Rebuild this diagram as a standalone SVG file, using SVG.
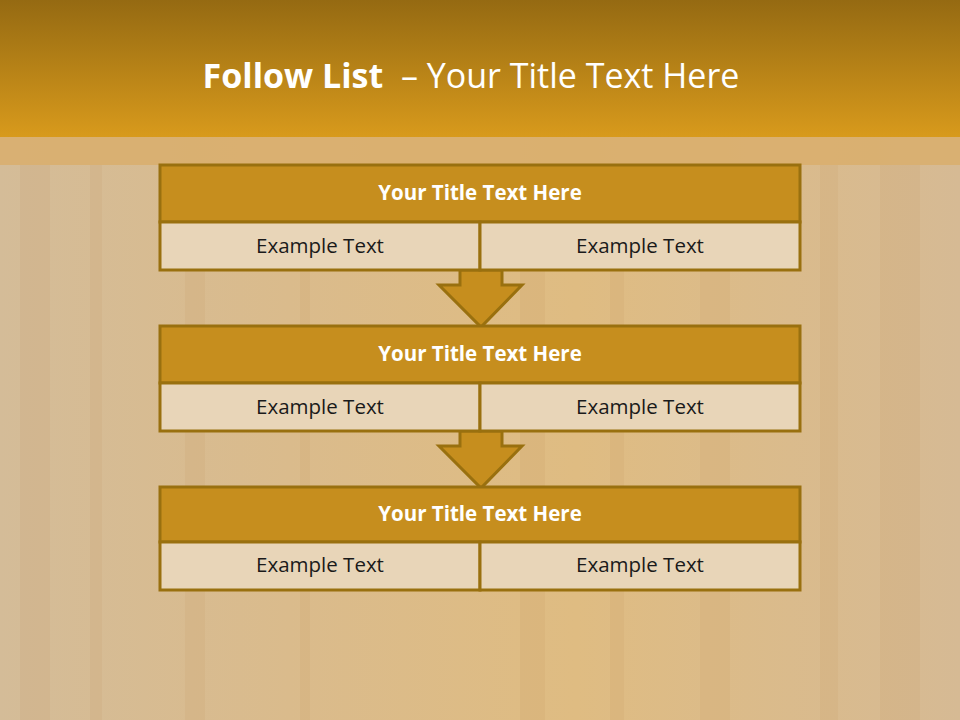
<svg xmlns="http://www.w3.org/2000/svg" width="960" height="720" viewBox="0 0 960 720">
<defs>
<linearGradient id="hdr" x1="0" y1="0" x2="0" y2="1">
<stop offset="0" stop-color="#956a12"/>
<stop offset="1" stop-color="#d89a1c"/>
</linearGradient>
<linearGradient id="bg" x1="0" y1="0" x2="1" y2="0">
<stop offset="0" stop-color="#d4bc98"/>
<stop offset="0.3" stop-color="#dabb8c"/>
<stop offset="0.6" stop-color="#dfbc82"/>
<stop offset="1" stop-color="#d6ba94"/>
</linearGradient>
<style>
.title{fill:#c68e1e;stroke:#99700f;stroke-width:3}
.cell{fill:#e8d5b8;stroke:#99700f;stroke-width:3}
.arrow{fill:#c68e1e;stroke:#99700f;stroke-width:3;stroke-linejoin:miter}
.tt{font-family:"Open Sans","Liberation Sans",sans-serif;font-weight:bold;font-size:20.5px;fill:#ffffff;text-anchor:middle}
.et{font-family:"Open Sans","Liberation Sans",sans-serif;font-size:20.5px;fill:#1a1a1a;text-anchor:middle}
.streak{fill:#a8692a;opacity:0.06}
</style>
</defs>
<rect x="0" y="0" width="960" height="720" fill="url(#bg)"/>
<g id="texture">
<rect class="streak" x="20" y="165" width="30" height="555"/>
<rect class="streak" x="90" y="165" width="12" height="555"/>
<rect class="streak" x="185" y="165" width="20" height="555"/>
<rect class="streak" x="300" y="165" width="10" height="555"/>
<rect class="streak" x="520" y="165" width="25" height="555"/>
<rect class="streak" x="610" y="165" width="14" height="555"/>
<rect class="streak" x="700" y="165" width="30" height="555"/>
<rect class="streak" x="820" y="165" width="18" height="555"/>
<rect class="streak" x="880" y="165" width="40" height="555"/>
</g>
<rect x="0" y="0" width="960" height="137" fill="url(#hdr)"/>
<rect x="0" y="137" width="960" height="28" fill="#d9ae6c" opacity="0.85"/>
<text x="471" y="88" font-family="Open Sans,Liberation Sans,sans-serif" font-size="34" fill="#ffffff" text-anchor="middle" xml:space="preserve"><tspan font-weight="bold">Follow List</tspan>  – Your Title Text Here</text>
<g id="connectors">
<polygon class="arrow" points="460,270 502,270 502,285 522,285 481,327 439,285 460,285"/>
<polygon class="arrow" points="460,431 502,431 502,446 522,446 481,488 439,446 460,446"/>
</g>
<g id="node1">
<rect class="title" x="160" y="165" width="640" height="57"/>
<rect class="cell" x="160" y="222" width="320" height="48"/>
<rect class="cell" x="480" y="222" width="320" height="48"/>
<text class="tt" x="480" y="200">Your Title Text Here</text>
<text class="et" x="320" y="253">Example Text</text>
<text class="et" x="640" y="253">Example Text</text>
</g>
<g id="node2">
<rect class="title" x="160" y="326" width="640" height="57"/>
<rect class="cell" x="160" y="383" width="320" height="48"/>
<rect class="cell" x="480" y="383" width="320" height="48"/>
<text class="tt" x="480" y="361">Your Title Text Here</text>
<text class="et" x="320" y="414">Example Text</text>
<text class="et" x="640" y="414">Example Text</text>
</g>
<g id="node3">
<rect class="title" x="160" y="487" width="640" height="55"/>
<rect class="cell" x="160" y="542" width="320" height="48"/>
<rect class="cell" x="480" y="542" width="320" height="48"/>
<text class="tt" x="480" y="521">Your Title Text Here</text>
<text class="et" x="320" y="572">Example Text</text>
<text class="et" x="640" y="572">Example Text</text>
</g>
</svg>
